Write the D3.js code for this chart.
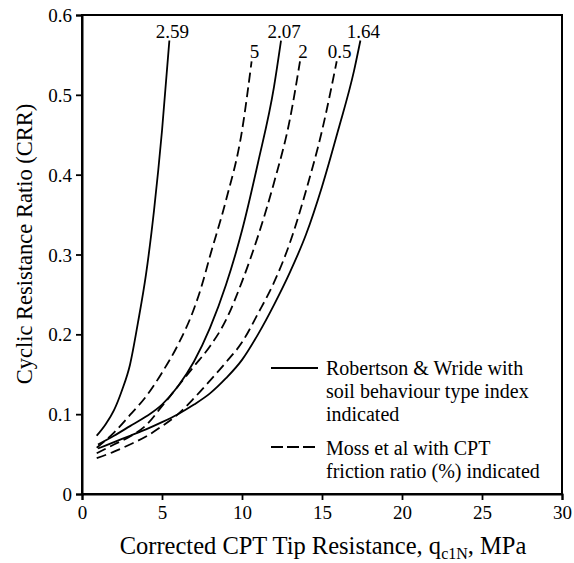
<!DOCTYPE html>
<html><head><meta charset="utf-8">
<script src="https://cdn.jsdelivr.net/npm/d3@7"></script>
<style>
body{margin:0;background:#fff}
</style>
</head><body>
<svg id="chart" width="574" height="563"></svg>
<script>
// ---- data ----
const xTicks = [0, 5, 10, 15, 20, 25, 30];
const yTicks = [0, 0.1, 0.2, 0.3, 0.4, 0.5, 0.6];
const yTickLabels = ["0", "0.1", "0.2", "0.3", "0.4", "0.5", "0.6"];

// Robertson & Wride curves [qc1N (MPa), CRR]
const rw259 = [[0.92,0.073],[1.5,0.088],[2,0.105],[2.5,0.13],[3,0.162],[3.5,0.215],[4,0.275],[4.5,0.355],[5,0.455],[5.46,0.568]];
const rw207 = [[1,0.062],[2,0.073],[3,0.085],[4,0.097],[5,0.112],[6,0.135],[7,0.166],[8,0.208],[9,0.262],[10,0.33],[11,0.415],[12,0.51],[12.44,0.568]];
const rw164 = [[1,0.057],[2,0.065],[3,0.073],[4,0.081],[5,0.09],[6,0.1],[7,0.112],[8,0.126],[9,0.145],[10,0.168],[11,0.2],[12,0.237],[13,0.278],[14,0.325],[15,0.385],[16,0.455],[17,0.53],[17.4,0.568]];
// Moss et al curves
const moss5  = [[0.92,0.058],[2,0.077],[3,0.099],[4,0.122],[5,0.152],[6,0.187],[7,0.232],[7.5,0.262],[8,0.298],[9,0.368],[10,0.455],[10.6,0.542]];
const moss2  = [[0.92,0.051],[2,0.062],[3,0.072],[4,0.086],[5,0.11],[6,0.135],[7,0.16],[8,0.185],[9,0.218],[10,0.266],[11,0.323],[12,0.39],[13,0.47],[13.625,0.542]];
const moss05 = [[0.92,0.045],[2,0.053],[3,0.062],[4,0.072],[5,0.085],[6,0.1],[7,0.12],[8,0.142],[9,0.165],[10,0.19],[11,0.226],[12,0.265],[13,0.315],[14,0.38],[15,0.455],[15.92,0.542]];

const seriesData   = [rw259, rw207, rw164, moss5, moss2, moss05];
const seriesLabels = ["2.59", "2.07", "1.64", "5", "2", "0.5"];
const seriesDashed = [false, false, false, true, true, true];

const legendLabels = [
  ["Robertson & Wride with", "soil behaviour type index", "indicated"],
  ["Moss et al with CPT", "friction ratio (%) indicated"]
];

// ---- pick an installed serif font ----
function pickFont() {
  const cands = ["Liberation Serif", "Tinos", "Times New Roman", "DejaVu Serif", "Noto Serif", "FreeSerif", "Nimbus Roman"];
  const ctx = document.createElement("canvas").getContext("2d");
  const s = "Cyclic Resistance Ratio (CRR) 0123456789 mmmwwwiii";
  const base = {};
  ["monospace", "sans-serif"].forEach(f => { ctx.font = "40px " + f; base[f] = ctx.measureText(s).width; });
  for (const c of cands) {
    let ok = true;
    for (const f of ["monospace", "sans-serif"]) {
      ctx.font = `40px "${c}", ${f}`;
      if (Math.abs(ctx.measureText(s).width - base[f]) < 0.5) ok = false;
    }
    if (ok) return `"${c}", serif`;
  }
  return '"Liberation Sans", Arial, sans-serif';
}
const FONT = pickFont();

// ---- layout ----
const svg = d3.select("#chart");
const m = {left: 82, right: 562, top: 15, bottom: 494};
const x = d3.scaleLinear().domain([0, 30]).range([m.left, m.right]);
const y = d3.scaleLinear().domain([0, 0.6]).range([m.bottom, m.top]);

// frame
svg.append("rect")
  .attr("x", m.left).attr("y", m.top)
  .attr("width", m.right - m.left).attr("height", m.bottom - m.top)
  .attr("fill", "none").attr("stroke", "#000").attr("stroke-width", 2);

// axes
const xAxis = svg.append("g").attr("transform", `translate(0,${m.bottom})`)
  .call(d3.axisBottom(x).tickValues(xTicks).tickSize(6).tickPadding(5).tickFormat(d3.format("d")));
const yAxis = svg.append("g").attr("transform", `translate(${m.left},0)`)
  .call(d3.axisLeft(y).tickValues(yTicks).tickSize(6).tickPadding(4).tickFormat((d, i) => yTickLabels[i]));
[xAxis, yAxis].forEach(g => {
  g.attr("font-family", null);
  g.select(".domain").attr("stroke", "#000").attr("stroke-width", 2);
  g.selectAll(".tick line").attr("stroke", "#000").attr("stroke-width", 1.8);
  g.selectAll(".tick text").style("font-family", FONT).attr("font-size", 19).attr("fill", "#000");
});
xAxis.selectAll(".tick text").attr("dy", null).attr("y", 25);
yAxis.selectAll(".tick text").attr("dy", "0.35em");

// curves
const line = d3.line().x(d => x(d[0])).y(d => y(d[1])).curve(d3.curveMonotoneX);
svg.append("g").selectAll("path").data(seriesData).join("path")
  .attr("d", line)
  .attr("fill", "none").attr("stroke", "#000").attr("stroke-width", 1.8)
  .attr("stroke-dasharray", (d, i) => seriesDashed[i] ? "10,5" : null);

// curve labels
svg.append("g").selectAll("text").data(seriesData).join("text")
  .attr("x", d => x(d[d.length - 1][0]) + 3)
  .attr("y", d => y(d[d.length - 1][1]) - 3)
  .attr("text-anchor", "middle").attr("font-size", 19).style("font-family", FONT)
  .text((d, i) => seriesLabels[i]);

// legend
const lg = svg.append("g");
const legRows = [368, 447];
const legBase = [[375, 398, 421], [455, 478]];
legendLabels.forEach((lines, k) => {
  lg.append("line").attr("x1", 271).attr("x2", 318).attr("y1", legRows[k]).attr("y2", legRows[k])
    .attr("stroke", "#000").attr("stroke-width", 1.8)
    .attr("stroke-dasharray", k === 1 ? "12,4" : null);
  lines.forEach((t, j) => {
    lg.append("text").attr("x", 326).attr("y", legBase[k][j]).attr("font-size", 20).style("font-family", FONT).text(t);
  });
});

// axis titles
const xt = svg.append("text").attr("x", 323).attr("y", 554).attr("text-anchor", "middle").attr("font-size", 24.5).style("font-family", FONT);
xt.append("tspan").text("Corrected CPT Tip Resistance, q");
xt.append("tspan").attr("font-size", 16).attr("dy", 5).text("c1N");
xt.append("tspan").attr("dy", -5).text(", MPa");

svg.append("text")
  .attr("transform", "translate(32,244) rotate(-90)")
  .attr("text-anchor", "middle").attr("font-size", 22.5).style("font-family", FONT)
  .text("Cyclic Resistance Ratio (CRR)");
</script>
</body></html>
